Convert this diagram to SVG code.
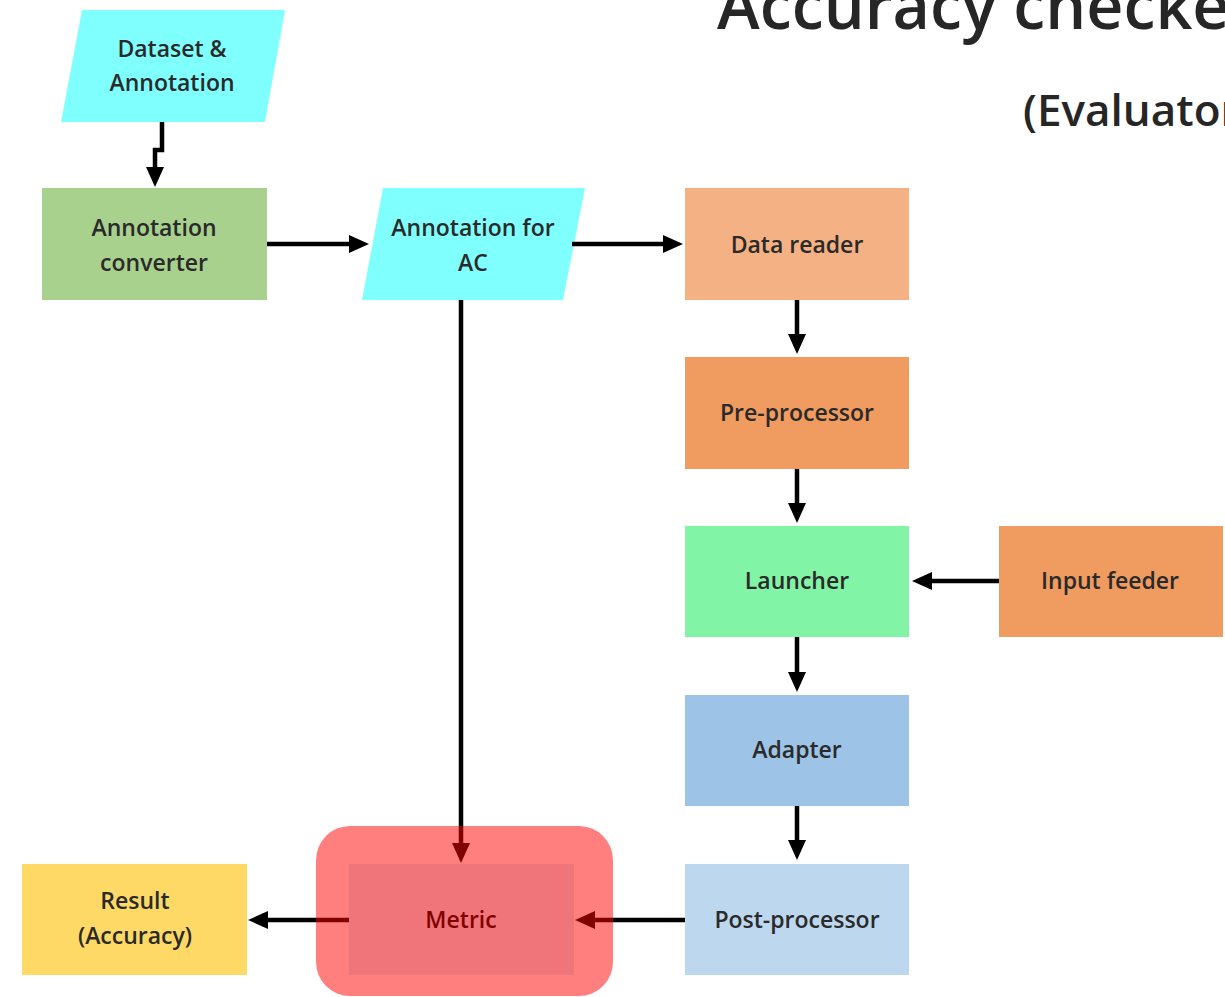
<svg xmlns="http://www.w3.org/2000/svg" width="1225" height="997" viewBox="0 0 1225 997">
  <style>
    .lbl { font-family: "Open Sans", "Liberation Sans", sans-serif; font-size: 23px; font-weight: 600; fill: #2a2a2a; text-anchor: middle; }
    .title { font-family: "Open Sans", "Liberation Sans", sans-serif; font-weight: 600; fill: #262626; }
    .conn { fill: none; stroke: #000; stroke-width: 4.5; marker-end: url(#head); }
  </style>
  <defs>
    <marker id="head" viewBox="0 0 20 20" markerWidth="20" markerHeight="20" refX="7" refY="10" orient="auto" markerUnits="userSpaceOnUse">
      <path d="M0,1 L20,10 L0,19 Z" fill="#000"/>
    </marker>
  </defs>

  <rect width="1225" height="997" fill="#fff"/>

  <!-- headings -->
  <text class="title" x="717" y="29" font-size="64.5">Accuracy checker</text>
  <text class="title" x="1023" y="126" font-size="44">(Evaluator)</text>

  <g id="dataset">
    <polygon points="82,10 285,10 265,122 61,122" fill="#80FFFF"/>
    <text class="lbl" x="172" y="57">Dataset &amp;</text>
    <text class="lbl" x="172" y="91">Annotation</text>
  </g>

  <g id="annotation-converter">
    <rect x="42" y="188" width="225" height="112" fill="#A9D18E"/>
    <text class="lbl" x="154" y="236">Annotation</text>
    <text class="lbl" x="154" y="271">converter</text>
  </g>

  <g id="annotation-ac">
    <polygon points="383,188 585,188 563,300 362,300" fill="#80FFFF"/>
    <text class="lbl" x="473" y="236">Annotation for</text>
    <text class="lbl" x="473" y="271">AC</text>
  </g>

  <g id="data-reader">
    <rect x="685" y="188" width="224" height="112" fill="#F4B183"/>
    <text class="lbl" x="797" y="253">Data reader</text>
  </g>

  <g id="pre-processor">
    <rect x="685" y="357" width="224" height="112" fill="#F09B5F"/>
    <text class="lbl" x="797" y="421">Pre-processor</text>
  </g>

  <g id="launcher">
    <rect x="685" y="526" width="224" height="111" fill="#82F4A6"/>
    <text class="lbl" x="797" y="589">Launcher</text>
  </g>

  <g id="input-feeder">
    <rect x="999" y="526" width="224" height="111" fill="#F09B5F"/>
    <text class="lbl" x="1110" y="589">Input feeder</text>
  </g>

  <g id="adapter">
    <rect x="685" y="695" width="224" height="111" fill="#9DC3E6"/>
    <text class="lbl" x="797" y="758">Adapter</text>
  </g>

  <g id="post-processor">
    <rect x="685" y="864" width="224" height="111" fill="#BDD7EE"/>
    <text class="lbl" x="797" y="928">Post-processor</text>
  </g>

  <g id="result">
    <rect x="22" y="864" width="225" height="111" fill="#FFD966"/>
    <text class="lbl" x="135" y="909">Result</text>
    <text class="lbl" x="135" y="944">(Accuracy)</text>
  </g>

  <g id="connectors">
    <path class="conn" d="M162,122 V150 H155 V174"/>
    <path class="conn" d="M267,244 H356"/>
    <path class="conn" d="M572,244 H670"/>
    <path class="conn" d="M797,300 V341"/>
    <path class="conn" d="M797,469 V510"/>
    <path class="conn" d="M999,581 H925"/>
    <path class="conn" d="M797,637 V679"/>
    <path class="conn" d="M797,806 V847"/>
    <path class="conn" d="M685,920 H588"/>
    <path class="conn" d="M461,300 V850"/>
    <path class="conn" d="M349,920 H261"/>
  </g>

  <!-- metric node with its translucent red highlight laid over the incoming/outgoing lines -->
  <g id="metric">
    <rect x="349" y="864" width="225" height="111" fill="#DEEBF7"/>
    <text class="lbl" x="461" y="928" style="fill:#000">Metric</text>
    <rect x="316" y="826" width="297" height="170" rx="34" ry="34" fill="#FF0000" fill-opacity="0.5"/>
  </g>
</svg>
